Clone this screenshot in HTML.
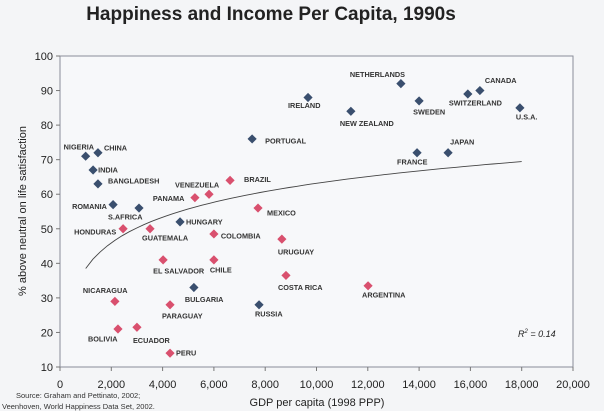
<!DOCTYPE html>
<html><head><meta charset="utf-8"><style>
html,body{margin:0;padding:0;background:#f4f5f7;}
svg{display:block;font-family:"Liberation Sans",Arial,sans-serif;}
</style></head><body>
<svg id="chart" width="604" height="411" viewBox="0 0 604 411">
<rect x="0" y="0" width="604" height="411" fill="#f4f5f7"/>
<text x="271" y="20" text-anchor="middle" font-size="19" font-weight="bold" fill="#222">Happiness and Income Per Capita, 1990s</text>
<rect x="60" y="56" width="513" height="311" fill="#f7f8fa" stroke="#8a8d99" stroke-width="1"/>
<g id="axes"></g>
<g id="marks"></g>
<text transform="translate(26,211) rotate(-90)" text-anchor="middle" font-size="11" fill="#222">% above neutral on life satisfaction</text>
<text x="317" y="406" text-anchor="middle" font-size="11" fill="#222">GDP per capita (1998 PPP)</text>
<text x="16" y="398" font-size="7.5" fill="#333">Source: Graham and Pettinato, 2002;</text>
<text x="2" y="409" font-size="7.5" fill="#333">Veenhoven, World Happiness Data Set, 2002.</text>
<text x="518" y="337" font-size="9" font-style="italic" fill="#222">R<tspan font-size="6" dy="-4">2</tspan><tspan dy="4"> = 0.14</tspan></text>
</svg>
<script>
const countries = ["NIGERIA","CHINA","INDIA","BANGLADESH","ROMANIA","S.AFRICA","HUNGARY","PORTUGAL","IRELAND","NETHERLANDS","NEW ZEALAND","SWEDEN","SWITZERLAND","CANADA","U.S.A.","FRANCE","JAPAN","BULGARIA","RUSSIA","BRAZIL","VENEZUELA","PANAMA","MEXICO","HONDURAS","GUATEMALA","COLOMBIA","URUGUAY","EL SALVADOR","CHILE","COSTA RICA","ARGENTINA","NICARAGUA","PARAGUAY","BOLIVIA","ECUADOR","PERU"];
const gdp = [1000,1480,1290,1480,2070,3080,4680,7490,9670,13290,11340,14000,15900,16370,17930,13920,15130,5220,7760,6630,5810,5260,7720,2460,3510,6000,8650,4020,6000,8810,12010,2140,4290,2260,3000,4290];
const happiness = [71,72,67,63,57,56,52,76,88,92,84,87,89,90,85,72,72,33,28,64,60,59,56,50,50,48.5,47,41,41,36.5,33.5,29,28,21,21.5,14];
const group = ["t","t","t","t","t","t","t","t","t","t","t","t","t","t","t","t","t","t","t","l","l","l","l","l","l","l","l","l","l","l","l","l","l","l","l","l"];
const xTicks = [0,2000,4000,6000,8000,10000,12000,14000,16000,18000,20000];
const yTicks = [10,20,30,40,50,60,70,80,90,100];
const trendA = -35.4, trendB = 10.7, trendFrom = 1000, trendTo = 18000;
// label offsets (layout only) relative to marker: [dx, dy, anchor]
const labelOffset = [[-22,-9,"start"],[6,-5,"start"],[5,0,"start"],[10,-3,"start"],[-41,2,"start"],[-31,9,"start"],[6,0,"start"],[13,2,"start"],[-20,8,"start"],[-51,-9,"start"],[-11,12,"start"],[-6,11,"start"],[-19,9,"start"],[5,-10,"start"],[-4,9,"start"],[-20,9,"start"],[2,-11,"start"],[-9,12,"start"],[-4,9,"start"],[14,-1,"start"],[-34,-9,"start"],[-42,1,"start"],[9,5,"start"],[-49,3,"start"],[-8,9,"start"],[7,2,"start"],[-4,13,"start"],[-10,11,"start"],[-4,10,"start"],[-8,12,"start"],[-6,9,"start"],[-32,-11,"start"],[-8,11,"start"],[-30,10,"start"],[-4,13,"start"],[6,0,"start"]];
const NS="http://www.w3.org/2000/svg";
const X0=60,X1=573,Y0=367,Y1=56;
function xs(v){return X0+(v/20000)*(X1-X0);}
function ys(v){return Y0-((v-10)/90)*(Y0-Y1);}
function mk(t,a,p){const e=document.createElementNS(NS,t);for(const k in a)e.setAttribute(k,a[k]);p.appendChild(e);return e;}
const axes=document.getElementById('axes'), marks=document.getElementById('marks');
xTicks.forEach(v=>{
  const l=mk('line',{x1:xs(v),x2:xs(v),y1:Y0,y2:Y0+4,stroke:'#777'},axes);
  
  
  const t=mk('text',{x:xs(v),y:Y0+21,'text-anchor':'middle','font-size':'11',fill:'#222'},axes);
  t.textContent=v===0?'0':v.toLocaleString('en-US');
  
  
});
yTicks.forEach(v=>{
  const l=mk('line',{x1:X0-4,x2:X0,y1:ys(v),y2:ys(v),stroke:'#777'},axes);
  
  
  const t=mk('text',{x:X0-7,y:ys(v)+4,'text-anchor':'end','font-size':'11',fill:'#222'},axes);
  t.textContent=v;
  
  
});
let d='';
for(let i=0;i<=60;i++){const g=trendFrom+(trendTo-trendFrom)*i/60;const h=trendA+trendB*Math.log(g);d+=(i?'L':'M')+xs(g).toFixed(1)+' '+ys(h).toFixed(1);}
const tr=mk('path',{d:d,fill:'none',stroke:'#444',"stroke-width":'0.9'},marks);


countries.forEach((c,i)=>{
  const cx=xs(gdp[i]),cy=ys(happiness[i]),r=4.6;
  const p=mk('polygon',{points:`${cx},${cy-r} ${cx+r},${cy} ${cx},${cy+r} ${cx-r},${cy}`,fill:group[i]==='t'?'#3a4f6e':'#d9506e'},marks);
  
  
  const o=labelOffset[i];
  const t=mk('text',{x:cx+o[0],y:cy+o[1]+2.5,'text-anchor':o[2],'font-size':'7.3','font-weight':'bold',fill:'#333'},marks);
  t.textContent=c;
  
  
});
</script>
</body></html>
